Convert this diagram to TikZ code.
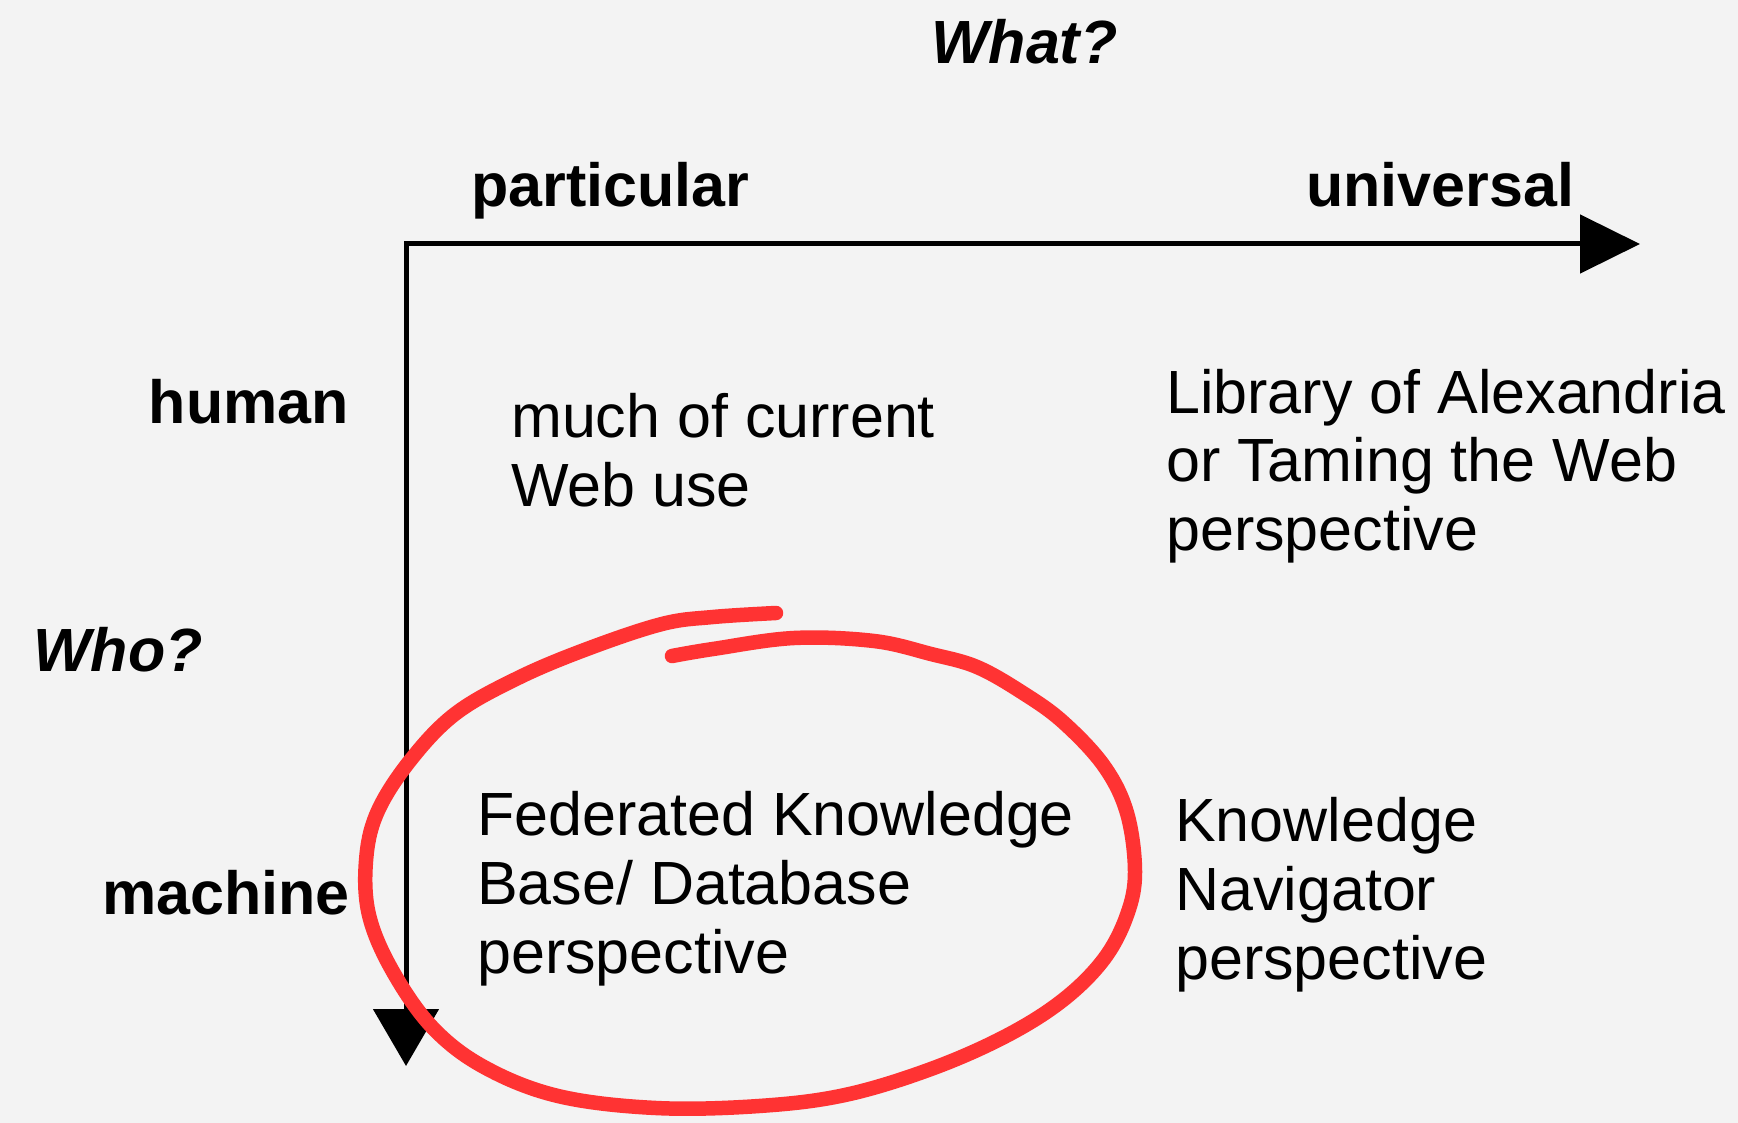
\documentclass[tikz,border=0pt]{standalone}
\usepackage{fontspec}
\setmainfont{Liberation Sans}
\usetikzlibrary{arrows.meta}
\definecolor{bg}{RGB}{243,243,243}
\definecolor{marker}{RGB}{255,51,51}
\newcommand{\lines}[1]{\begin{tabular}[t]{@{}l@{}}#1\end{tabular}}
\begin{document}
\begin{tikzpicture}[x=1pt,y=-1pt,
  head/.style={inner sep=0pt, font=\fontsize{61}{69}\selectfont\bfseries},
  ask/.style={inner sep=0pt, anchor=base west, font=\fontsize{61}{69}\selectfont\bfseries\itshape},
  body/.style={inner sep=0pt, anchor=base west, font=\fontsize{61}{69}\selectfont},
  axis/.style={line width=5pt, black, line join=miter,
    {Triangle[length=57pt,width=65pt]}-{Triangle[length=60pt,width=58pt]}},
  loopline/.style={line width=14.5pt, marker, line cap=round, line join=round}]

% page background
\fill[bg] (0,0) rectangle (1738,1123);

% axes
\coordinate (origin) at (406,244);
\coordinate (xend) at (1640,244);
\coordinate (yend) at (406,1066);
\draw[axis] (yend) -- (origin) -- (xend);

% axis headings
\node[ask] (what) at (931,64) {What?};
\node[ask] (who) at (33,671) {Who?};
\node[head, anchor=base west] (particular) at (471,207) {particular};
\node[head, anchor=base west] (universal) at (1306,207) {universal};
\node[head, anchor=base east] (human) at (349,423) {human};
\node[head, anchor=base east] (machine) at (350,914) {machine};

% quadrant texts
\node[body] (current) at (511,437) {\lines{much of current\\Web use}};
\node[body] (alexandria) at (1166,413) {\lines{Library of Alexandria\\or Taming the Web\\perspective}};
\node[body] (federated) at (477,835) {\lines{Federated Knowledge\\Base/ Database\\perspective}};
\node[body] (navigator) at (1175,841) {\lines{Knowledge\\Navigator\\perspective}};

% hand-drawn red loop around the federated quadrant
\draw[loopline] plot[smooth, tension=0.6] coordinates {
  (672,656) (713,649) (794,638) (874,641) (931,654) (977,667) (1023,693)
  (1063,722) (1104,766) (1127,813) (1135,872) (1127,915) (1104,959)
  (1063,1000) (1006,1036) (931,1069) (845,1095) (759,1106) (656,1108)
  (558,1096) (484,1067) (432,1027) (392,970) (369,915) (366,861)
  (377,813) (409,762) (455,714) (518,678) (587,649) (662,624) (713,617)
  (776,613)};
\end{tikzpicture}
\end{document}
